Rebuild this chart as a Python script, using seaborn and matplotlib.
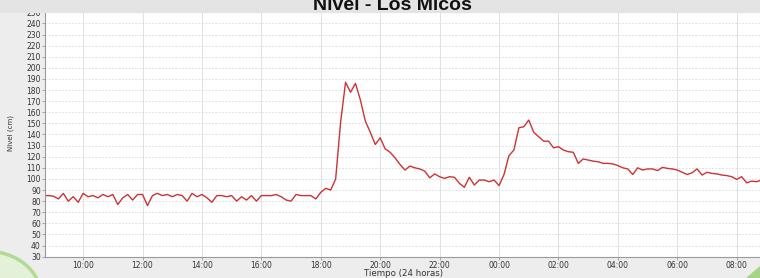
import numpy as np
import pandas as pd
import matplotlib
matplotlib.use("Agg")
import matplotlib.pyplot as plt
import matplotlib.dates as mdates
from matplotlib.patches import Ellipse, Rectangle, Polygon
import seaborn as sns

# ---------------- data ----------------
titulo = "Nivel - Los Micos"
eje_x = "Tiempo (24 horas)"
eje_y = "Nivel (cm)"
inicio = "2020-01-01 08:40"
paso = "10min"
nivel = [
    85, 85,                                  # 08:40 - 08:50
    84.5, 82, 87, 80, 84, 79,                # 09
    87, 84, 85, 83, 86, 84,                  # 10
    86, 77, 83, 86, 81, 86,                  # 11
    86, 76, 85, 87, 85, 86,                  # 12
    84, 86, 85, 80, 87, 84,                  # 13
    86, 83, 79, 85, 85, 84,                  # 14
    85, 80, 84, 81, 85, 80,                  # 15
    85, 85, 85, 86, 84, 81,                  # 16
    80, 86, 85, 85, 85, 82,                  # 17
    88, 91.5, 90, 100, 151, 187,             # 18
    178, 186, 171, 152, 142, 131,            # 19
    137, 127, 124, 119, 113, 108,            # 20
    111.6, 110, 109, 107, 101, 104.5,        # 21
    102, 100.5, 102, 101.5, 96, 92.5,        # 22
    101.5, 94.5, 99, 99, 97.5, 99,           # 23
    94, 104, 121, 126, 146, 147,             # 00
    153, 142, 138, 134, 134, 128,            # 01
    129, 126, 124.5, 124, 114, 118,          # 02
    117, 116, 115.5, 114, 114, 113.5,        # 03
    112, 110, 109, 104, 110, 108,            # 04
    109, 109, 107.5, 110.4, 109.5, 109,      # 05
    108, 106, 104, 105.6, 109, 103.5,        # 06
    106, 105, 104.5, 103.5, 103, 102,        # 07
    99.6, 102, 96.5, 98, 97.5, 99,           # 08
]
x_inicio = "2020-01-01 08:43"
x_fin = "2020-01-02 08:47"
x_ticks = ["2020-01-01 10:00", "2020-01-01 12:00", "2020-01-01 14:00",
           "2020-01-01 16:00", "2020-01-01 18:00", "2020-01-01 20:00",
           "2020-01-01 22:00", "2020-01-02 00:00", "2020-01-02 02:00",
           "2020-01-02 04:00", "2020-01-02 06:00", "2020-01-02 08:00"]
y_ticks = list(range(30, 251, 10))

df = pd.DataFrame({
    "tiempo": pd.date_range(inicio, periods=len(nivel), freq=paso),
    "nivel": nivel,
})

# ---------------- style ----------------
sns.set_theme(style="white")
plt.rcParams["font.family"] = ["DejaVu Sans"]

W, H = 760, 278
fig = plt.figure(figsize=(W / 100, H / 100), dpi=100, facecolor="#ededed")

# decorations
fig.patches.append(Rectangle((0, 1 - 12.5 / H), 1, 12.5 / H, transform=fig.transFigure,
                             facecolor="#e4e4e4", edgecolor="none", zorder=0))
fig.patches.append(Ellipse((-14 / W, 1 - 296 / H), 110 / W, 90 / H, transform=fig.transFigure,
                           facecolor="#e3f1d8", edgecolor="#b2da95", lw=2.5, zorder=0))
fig.patches.append(Polygon([(1, 0), (1, 12 / H), (1 - 14 / W, 0)], closed=True,
                           transform=fig.transFigure, facecolor="#a8d488",
                           edgecolor="none", zorder=0))

left, right, top, bottom = 45, 760, 12.3, 256.7
ax = fig.add_axes([left / W, 1 - bottom / H, (right - left) / W, (bottom - top) / H])
ax.set_facecolor("white")

sns.lineplot(data=df, x="tiempo", y="nivel", ax=ax, color="#cc3333", linewidth=1.0)

ax.set_ylim(30, 250)
ax.set_xlim(pd.Timestamp(x_inicio), pd.Timestamp(x_fin))
ax.set_yticks(y_ticks)
ax.set_xticks([pd.Timestamp(t) for t in x_ticks])
ax.xaxis.set_major_formatter(mdates.DateFormatter("%H:%M"))

ax.grid(axis="x", color="#dcdcdc", lw=0.6, ls="-")
ax.grid(axis="y", color="#d8d8d8", lw=0.6, ls=(0, (2, 2)))
ax.set_axisbelow(True)

ax.spines["right"].set_visible(False)
ax.spines["top"].set_color("#cfcfcf")
ax.spines["top"].set_linewidth(0.8)
for s in ["left", "bottom"]:
    ax.spines[s].set_color("#9a9a9a")
    ax.spines[s].set_linewidth(0.8)

ax.tick_params(axis="both", which="major", labelsize=5.5, colors="#9a9a9a",
               labelcolor="#333333", length=2, width=0.6, pad=1.0,
               left=True, bottom=True)
ax.set_xlabel("")
ax.set_ylabel("")

fig.text(11 / W, 1 - 133 / H, eje_y, rotation=90, fontsize=5, color="#333333",
         ha="center", va="center")
fig.text(403 / W, 1 - 273 / H, eje_x, fontsize=6.2, color="#333333",
         ha="center", va="center")
fig.text(392 / W, 1 - 10 / H, titulo, fontsize=14, fontweight="bold",
         family=["Liberation Sans", "DejaVu Sans"], color="#111111",
         ha="center", va="baseline")

fig.savefig("out.png", dpi=100, facecolor=fig.get_facecolor())
